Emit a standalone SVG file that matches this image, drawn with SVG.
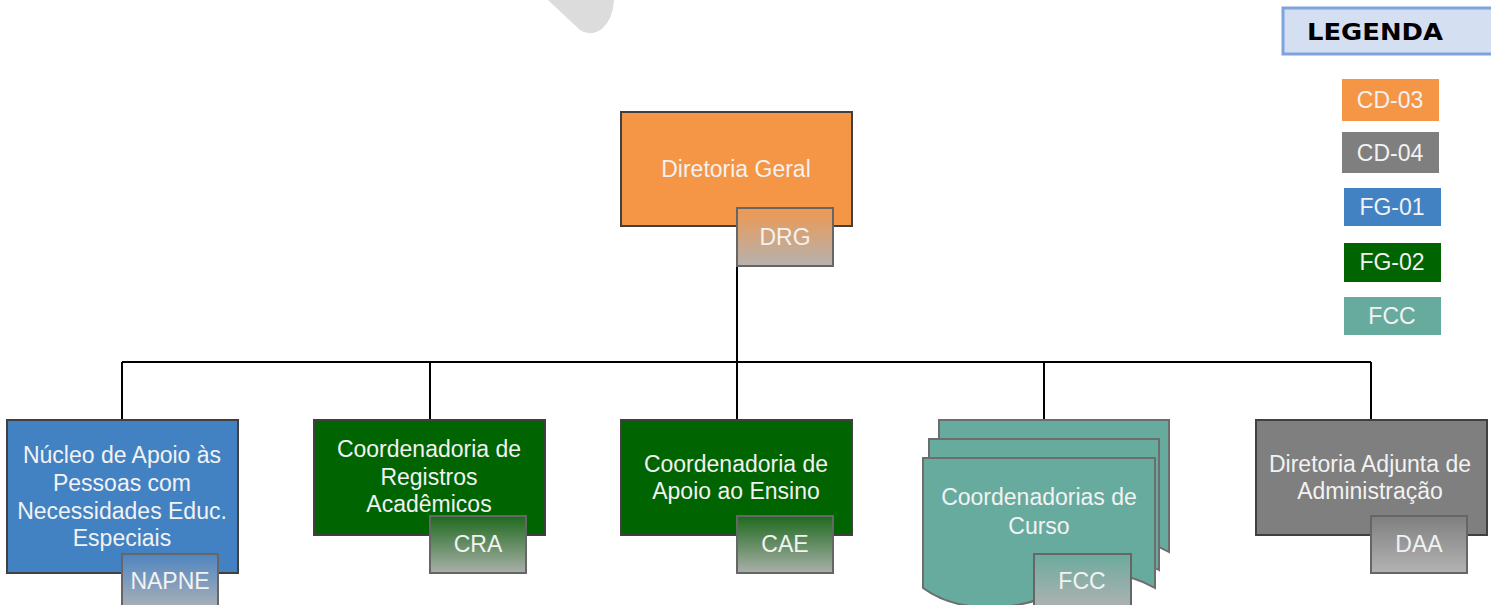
<svg xmlns="http://www.w3.org/2000/svg" width="1491" height="605" viewBox="0 0 1491 605">
<style>
  .t{font-family:"Liberation Sans",Arial,sans-serif;font-size:23px;fill:#F2F2F2;text-anchor:middle;dominant-baseline:central}
  .main{stroke:#404040;stroke-width:2}
  .sub{stroke:#666666;stroke-width:2}
  .conn{stroke:#000;stroke-width:2;fill:none}
  .leg{stroke:none}
</style>
<defs>
  <linearGradient id="gO" x1="0" y1="0" x2="0" y2="1"><stop offset="0" stop-color="#EE9850"/><stop offset="1" stop-color="#B5B2AF"/></linearGradient>
  <linearGradient id="gB" x1="0" y1="0" x2="0" y2="1"><stop offset="0" stop-color="#4F85C0"/><stop offset="1" stop-color="#B0B3B7"/></linearGradient>
  <linearGradient id="gG" x1="0" y1="0" x2="0" y2="1"><stop offset="0" stop-color="#1E6A1E"/><stop offset="1" stop-color="#AAB0AA"/></linearGradient>
  <linearGradient id="gT" x1="0" y1="0" x2="0" y2="1"><stop offset="0" stop-color="#6CAA9E"/><stop offset="1" stop-color="#B3B3B3"/></linearGradient>
  <linearGradient id="gY" x1="0" y1="0" x2="0" y2="1"><stop offset="0" stop-color="#7F7F7F"/><stop offset="1" stop-color="#B3B3B3"/></linearGradient>
</defs>

<path d="M548,0 L580,30 Q590,37 602,29 Q613,19 614,0 Z" fill="#DCDCDC"/>

<g id="connectors">
  <path class="conn" d="M737,266 V362 M122,362 H1371 M122,362 V420 M430,362 V420 M737,362 V420 M1044,362 V420 M1371,362 V420"/>
</g>

<g id="legend">
  <rect x="1283" y="8" width="212" height="46" fill="#D5DFF2" stroke="#7FA3DC" stroke-width="3"/>
  <text x="1375" y="32" font-family="'DejaVu Sans',sans-serif" font-weight="bold" font-size="23" fill="#000" text-anchor="middle" dominant-baseline="central" textLength="136" lengthAdjust="spacingAndGlyphs">LEGENDA</text>
  <rect class="leg" x="1342" y="79" width="97" height="42" fill="#F59646"/>
  <text class="t" x="1390" y="100">CD-03</text>
  <rect class="leg" x="1342" y="132" width="97" height="41" fill="#7F7F7F"/>
  <text class="t" x="1390" y="153">CD-04</text>
  <rect class="leg" x="1344" y="188" width="97" height="38" fill="#4382C2"/>
  <text class="t" x="1392" y="207">FG-01</text>
  <rect class="leg" x="1344" y="243" width="97" height="39" fill="#006400"/>
  <text class="t" x="1392" y="262">FG-02</text>
  <rect class="leg" x="1344" y="297" width="97" height="38" fill="#67AB9F"/>
  <text class="t" x="1392" y="316">FCC</text>
</g>

<g id="drg">
  <rect class="main" x="621" y="112" width="231" height="114" fill="#F59646"/>
  <text class="t" x="736" y="169">Diretoria Geral</text>
  <rect class="sub" x="737" y="208" width="96" height="58" fill="url(#gO)"/>
  <text class="t" x="785" y="237">DRG</text>
</g>

<g id="napne">
  <rect class="main" x="7" y="420" width="231" height="153" fill="#4382C2"/>
  <text class="t" x="122" y="455">Núcleo de Apoio às</text>
  <text class="t" x="122" y="483">Pessoas com</text>
  <text class="t" x="122" y="511">Necessidades Educ.</text>
  <text class="t" x="122" y="538">Especiais</text>
  <rect class="sub" x="122" y="554" width="96" height="58" fill="url(#gB)"/>
  <text class="t" x="170" y="581">NAPNE</text>
</g>

<g id="cra">
  <rect class="main" x="314" y="420" width="231" height="115" fill="#006400"/>
  <text class="t" x="429" y="449">Coordenadoria de</text>
  <text class="t" x="429" y="477">Registros</text>
  <text class="t" x="429" y="504">Acadêmicos</text>
  <rect class="sub" x="430" y="516" width="96" height="57" fill="url(#gG)"/>
  <text class="t" x="478" y="544">CRA</text>
</g>

<g id="cae">
  <rect class="main" x="621" y="420" width="231" height="115" fill="#006400"/>
  <text class="t" x="736" y="464">Coordenadoria de</text>
  <text class="t" x="736" y="491">Apoio ao Ensino</text>
  <rect class="sub" x="737" y="516" width="96" height="57" fill="url(#gG)"/>
  <text class="t" x="785" y="544">CAE</text>
</g>

<g id="fcc">
  <path d="M939,420 H1169 V552 C1134,532 1109,536 1074,554 C1034,576 974,579 939,552 Z" fill="#67AB9F" stroke="#6D6D6D" stroke-width="2"/>
  <path d="M929,439 H1159 V570 C1124,550 1099,554 1064,572 C1024,594 964,597 929,570 Z" fill="#67AB9F" stroke="#6D6D6D" stroke-width="2"/>
  <path d="M923,458 H1155 V588 C1120,568 1095,572 1060,590 C1020,612 960,615 923,588 Z" fill="#67AB9F" stroke="#6D6D6D" stroke-width="2"/>
  <text class="t" x="1039" y="497">Coordenadorias de</text>
  <text class="t" x="1039" y="526">Curso</text>
  <rect class="sub" x="1034" y="554" width="97" height="58" fill="url(#gT)"/>
  <text class="t" x="1082" y="581">FCC</text>
</g>

<g id="daa">
  <rect class="main" x="1256" y="420" width="231" height="115" fill="#7F7F7F"/>
  <text class="t" x="1370" y="464">Diretoria Adjunta de</text>
  <text class="t" x="1370" y="491">Administração</text>
  <rect class="sub" x="1371" y="516" width="96" height="57" fill="url(#gY)"/>
  <text class="t" x="1419" y="544">DAA</text>
</g>
</svg>
